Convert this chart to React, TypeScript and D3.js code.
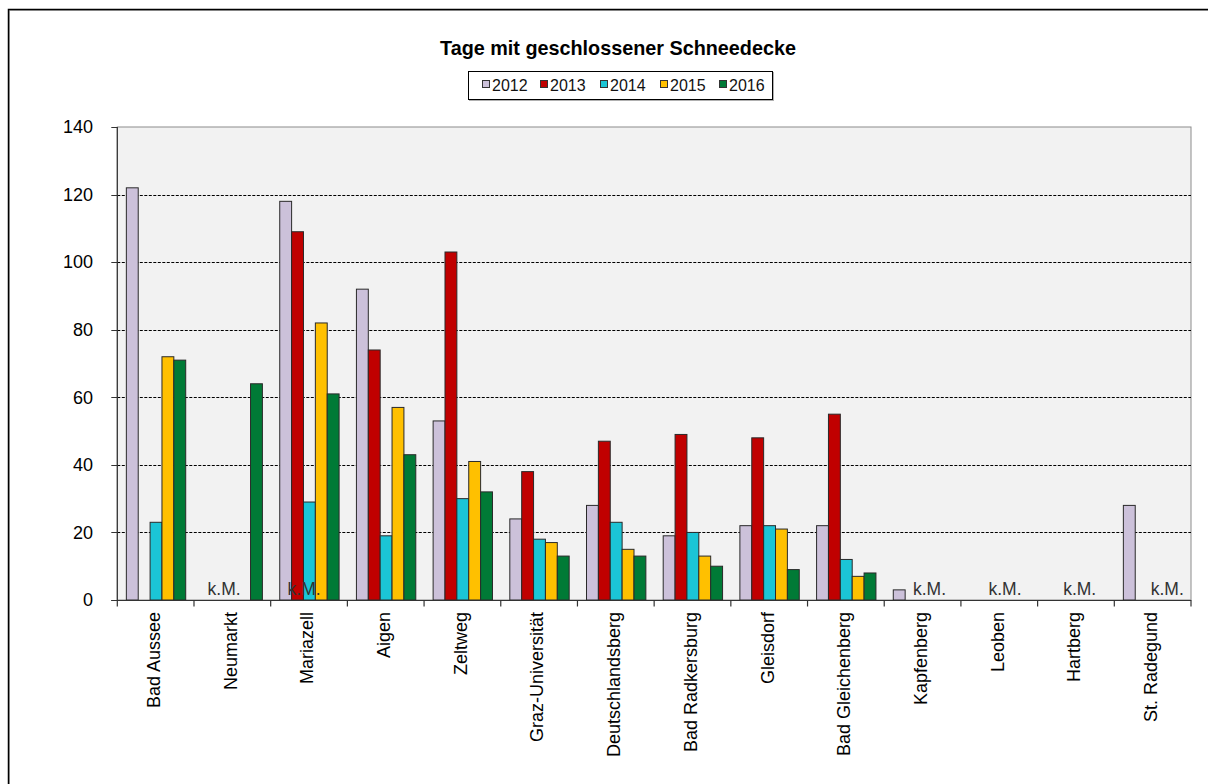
import React from 'react';
import * as d3 from 'd3';

const categories = [
  'Bad Aussee', 'Neumarkt', 'Mariazell', 'Aigen', 'Zeltweg', 'Graz-Universität',
  'Deutschlandsberg', 'Bad Radkersburg', 'Gleisdorf', 'Bad Gleichenberg',
  'Kapfenberg', 'Leoben', 'Hartberg', 'St. Radegund',
];
const years = ['2012', '2013', '2014', '2015', '2016'];
const colors = ['#ccc1da', '#c00000', '#1bc5d6', '#ffc000', '#007a36'];

const v2012 = [122, null, 118, 92, 53, 24, 28, 19, 22, 22, 3, null, null, 28];
const v2013 = [null, null, 109, 74, 103, 38, 47, 49, 48, 55, null, null, null, null];
const v2014 = [23, null, 29, 19, 30, 18, 23, 20, 22, 12, null, null, null, null];
const v2015 = [72, null, 82, 57, 41, 17, 15, 13, 21, 7, null, null, null, null];
const v2016 = [71, 64, 61, 43, 32, 13, 13, 10, 9, 8, null, null, null, null];
const series = [v2012, v2013, v2014, v2015, v2016];

// "k.M." (keine Messung) labels: category and slot within the group
const kmCats = ['Neumarkt', 'Mariazell', 'Kapfenberg', 'Leoben', 'Hartberg', 'St. Radegund'];
const kmSlots = [1.27, 1.55, 2.55, 2.45, 2.28, 3.2];

const yTicks = [0, 20, 40, 60, 80, 100, 120, 140];

const W = 1208;
const H = 784;
const left = 117.3;
const right = 1191;
const top = 127;
const bottom = 600;
const font = '"Liberation Sans", Arial, sans-serif';

export default function App() {
  const x0 = d3.scaleBand<string>().domain(categories).range([left, right]).padding(0);
  const bw = x0.bandwidth();
  const x1 = d3.scaleBand<string>().domain(years).range([bw * 0.118, bw * 0.892]).padding(0);
  const slot = d3.scaleLinear().domain([0, years.length]).range(x1.range());
  const y = d3.scaleLinear().domain([0, 140]).range([bottom, top]);

  const legendX = [482, 540, 600, 660, 719];

  return (
    <div style={{ position: 'absolute', left: 0, top: 0 }}>
      <svg width={W} height={H} style={{ display: 'block', background: '#fff' }}>
        {/* outer frame */}
        <rect x={9.5} y={10.5} width={1400} height={1000} fill="none" stroke="#b0b0b0" strokeWidth={1} />
        <rect x={8.5} y={9.5} width={1400} height={1000} fill="none" stroke="#000" strokeWidth={1.5} />

        <text x={618} y={55} textAnchor="middle" fontFamily={font} fontWeight="bold" fontSize={19.8} fill="#000">
          Tage mit geschlossener Schneedecke
        </text>

        {/* legend */}
        <rect x={469.5} y={72.5} width={304} height={28} fill="none" stroke="#b0b0b0" />
        <rect x={468.5} y={71.5} width={304} height={28} fill="#fff" stroke="#000" />
        {years.map((yr, i) => (
          <g key={yr}>
            <rect x={legendX[i] + 0.5} y={80.5} width={7} height={7} fill={colors[i]} stroke="#333" />
            <text x={legendX[i] + 10} y={91} fontFamily={font} fontSize={16} fill="#111">{yr}</text>
          </g>
        ))}

        {/* plot area */}
        <rect x={left} y={top} width={right - left} height={bottom - top} fill="#f2f2f2" stroke="#8c8c8c" strokeWidth={1} />

        {yTicks.filter(t => t > 0 && t < 140).map(t => (
          <line key={t} x1={left} x2={right} y1={Math.round(y(t)) + 0.5} y2={Math.round(y(t)) + 0.5}
            stroke="#000" strokeWidth={1} strokeDasharray="3,1.5" />
        ))}

        {/* bars */}
        {categories.map((c, ci) => (
          <g key={c} transform={`translate(${x0(c)},0)`}>
            {series.map((s, si) => {
              const v = s[ci];
              if (v == null) return null;
              return (
                <rect key={si} x={x1(years[si])} y={y(v)} width={x1.bandwidth()} height={y(0) - y(v)}
                  fill={colors[si]} stroke="#2a2a2a" strokeWidth={1} />
              );
            })}
          </g>
        ))}

        {/* k.M. labels */}
        {kmCats.map((c, i) => (
          <text key={c} x={(x0(c) as number) + slot(kmSlots[i] + 0.5)} y={595} textAnchor="middle"
            fontFamily={font} fontSize={17.5} fill="#333">k.M.</text>
        ))}

        {/* axes */}
        <line x1={left} x2={left} y1={top} y2={bottom} stroke="#333" strokeWidth={1.2} />
        <line x1={left - 6} x2={right} y1={bottom + 0.5} y2={bottom + 0.5} stroke="#333" strokeWidth={1.2} />
        {yTicks.map(t => (
          <g key={t}>
            <line x1={left - 6} x2={left} y1={Math.round(y(t)) + 0.5} y2={Math.round(y(t)) + 0.5} stroke="#333" />
            <text x={93} y={y(t)} dy="0.35em" textAnchor="end" fontFamily={font} fontSize={18} fill="#000">{t}</text>
          </g>
        ))}
        {[...categories.map(c => x0(c) as number), right].map((xx, i) => (
          <line key={i} x1={xx} x2={xx} y1={bottom} y2={bottom + 6.5} stroke="#333" strokeWidth={1.2} />
        ))}
        {categories.map(c => {
          const cx = (x0(c) as number) + bw / 2 - 2;
          return (
            <text key={c} transform={`translate(${cx},612) rotate(-90)`} dy="0.35em" textAnchor="end"
              fontFamily={font} fontSize={18} fill="#000">{c}</text>
          );
        })}
      </svg>
    </div>
  );
}
